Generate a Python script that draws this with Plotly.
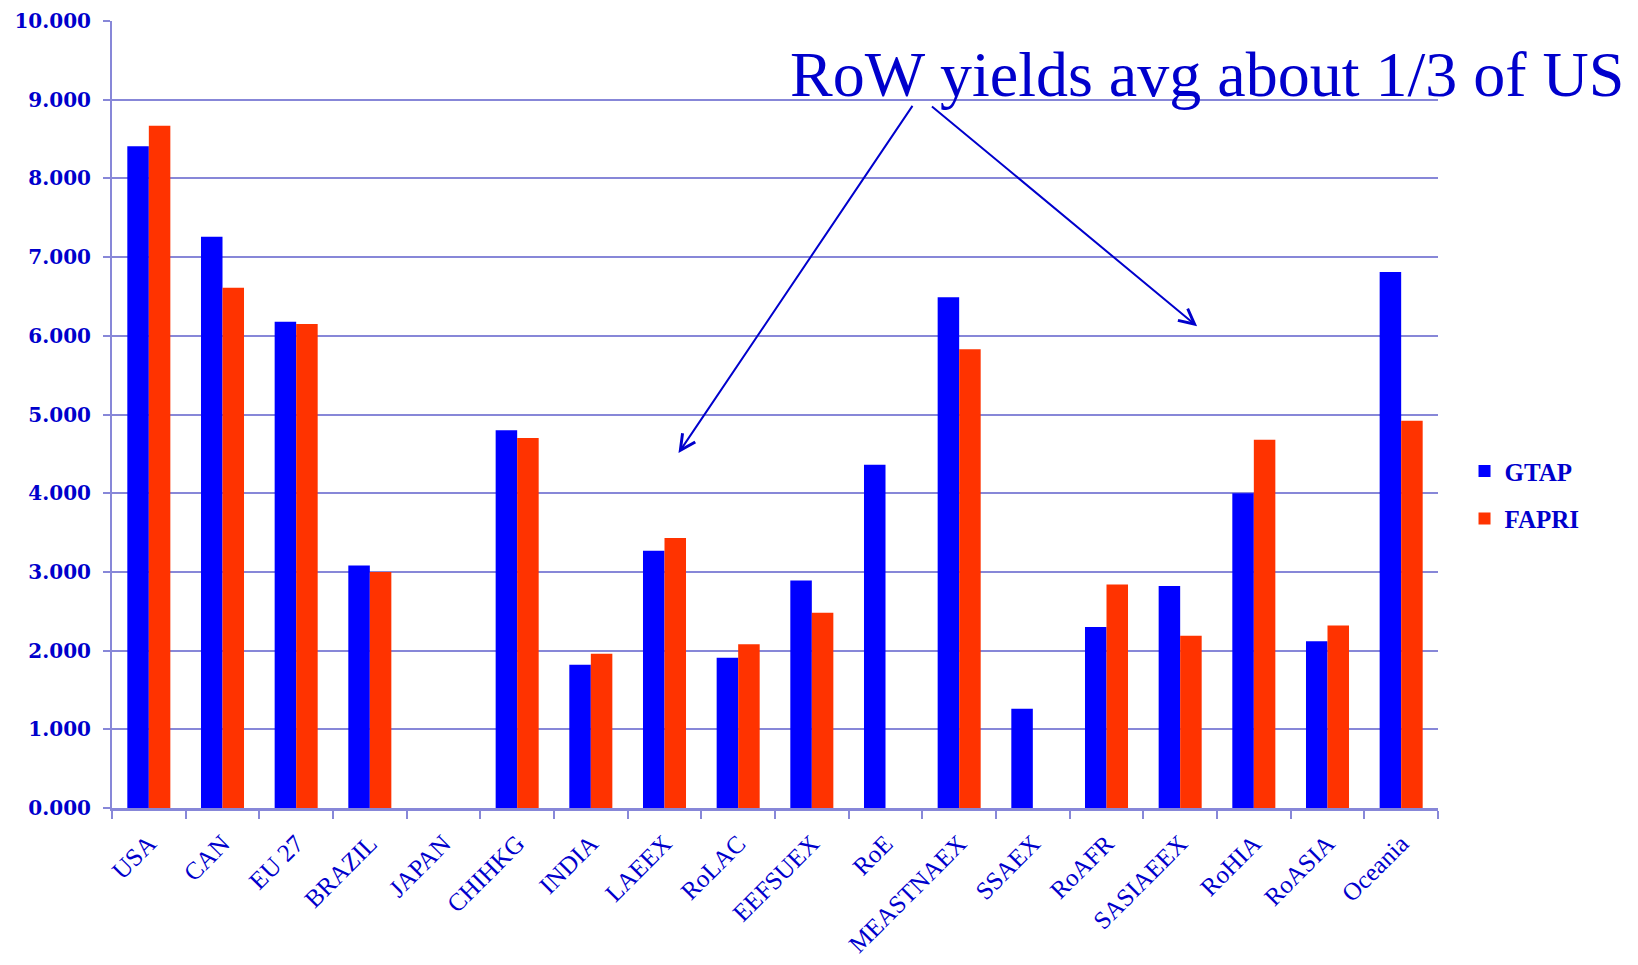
import plotly.graph_objects as go

# Regions and average yields for the two data sources
regions = ["USA", "CAN", "EU 27", "BRAZIL", "JAPAN", "CHIHKG", "INDIA", "LAEEX",
           "RoLAC", "EEFSUEX", "RoE", "MEASTNAEX", "SSAEX", "RoAFR", "SASIAEEX",
           "RoHIA", "RoASIA", "Oceania"]
gtap = [8.41, 7.26, 6.18, 3.08, None, 4.80, 1.82, 3.27, 1.91, 2.89, 4.36, 6.49,
        1.26, 2.30, 2.82, 4.00, 2.12, 6.81]
fapri = [8.67, 6.61, 6.15, 3.00, None, 4.70, 1.96, 3.43, 2.08, 2.48, None, 5.83,
         None, 2.84, 2.19, 4.68, 2.32, 4.92]
y_ticks = [0, 1, 2, 3, 4, 5, 6, 7, 8, 9, 10]
y_tick_text = ["0.000", "1.000", "2.000", "3.000", "4.000", "5.000", "6.000",
               "7.000", "8.000", "9.000", "10.000"]

headline = "RoW yields avg about 1/3 of US"

TEXT_BLUE = "#0000CC"
GRID = "#8787d8"

fig = go.Figure()
fig.add_trace(go.Bar(x=regions, y=gtap, name="GTAP", marker_color="#0000FF",
                     marker_line_width=0, legendgroup="g1"))
fig.add_trace(go.Bar(x=regions, y=fapri, name="FAPRI", marker_color="#FF3300",
                     marker_line_width=0, legendgroup="g2"))

# Headline text over the upper gridlines
fig.add_annotation(text=headline, xref="paper", yref="y", x=0.510, y=9.32,
                   xanchor="left", yanchor="middle", showarrow=False,
                   font=dict(family="Liberation Serif", size=64, color=TEXT_BLUE))

# Two pointer arrows from the headline down into the chart
arrow_style = dict(text="", showarrow=True, xref="x", yref="y", axref="x", ayref="y",
                   arrowhead=5, arrowsize=1.5, arrowwidth=2, arrowcolor=TEXT_BLUE)
fig.add_annotation(x=7.19, y=4.51, ax=10.38, ay=8.94, **arrow_style)
fig.add_annotation(x=14.23, y=6.12, ax=10.61, ay=8.93, **arrow_style)

fig.update_layout(
    width=1638, height=965,
    margin=dict(l=112, r=200, t=21, b=157, autoexpand=False),
    paper_bgcolor="white", plot_bgcolor="white",
    barmode="group", bargap=0.416, bargroupgap=0,
    showlegend=True,
    legend=dict(x=1.02, y=0.398, xanchor="left", yanchor="middle",
                traceorder="grouped", tracegroupgap=12,
                font=dict(family="Liberation Serif", size=25, color=TEXT_BLUE,
                          weight="bold"),
                bgcolor="rgba(0,0,0,0)"),
    xaxis=dict(type="category", showgrid=False, showline=True, linecolor=GRID,
               linewidth=3, ticks="outside", tickson="boundaries", ticklen=8,
               tickwidth=2, tickcolor=GRID, tickangle=-45, ticklabelstandoff=8,
               automargin=False,
               tickfont=dict(family="Liberation Serif", size=25, color=TEXT_BLUE)),
    yaxis=dict(range=[0, 10], tickvals=y_ticks, ticktext=y_tick_text,
               showgrid=True, gridcolor=GRID, gridwidth=2, zeroline=False,
               showline=True, linecolor=GRID, linewidth=2, ticks="outside",
               ticklen=7, tickwidth=2, tickcolor=GRID, ticklabelstandoff=8,
               automargin=False,
               tickfont=dict(family="DejaVu Serif", size=20, color=TEXT_BLUE,
                             weight="bold")),
)

fig.write_html("out.html")
